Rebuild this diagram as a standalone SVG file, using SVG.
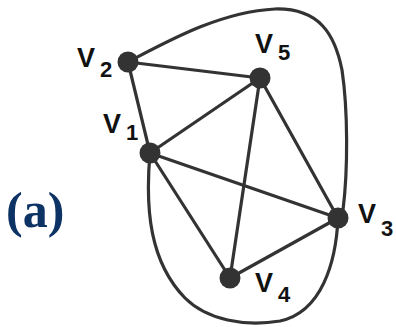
<svg xmlns="http://www.w3.org/2000/svg" width="396" height="327" viewBox="0 0 396 327">
<style>
.e{fill:none;stroke:#333;stroke-width:3.2;stroke-linecap:round}
.n{fill:#333}
.l{font-family:"Liberation Sans",Arial,sans-serif;font-weight:bold;font-size:27px;fill:#111}
.s{font-size:22px}
.t{font-family:"Liberation Serif","Times New Roman",serif;font-weight:bold;font-size:50px;fill:#0d3264}
</style>
<rect width="396" height="327" fill="#fff"/>
<g id="connectors">
<line class="e" x1="128" y1="62" x2="260" y2="78"/>
<line class="e" x1="128" y1="62" x2="150" y2="153"/>
<line class="e" x1="150" y1="153" x2="260" y2="78"/>
<line class="e" x1="150" y1="153" x2="338" y2="218"/>
<line class="e" x1="150" y1="153" x2="230" y2="278"/>
<line class="e" x1="260" y1="78" x2="230" y2="278"/>
<line class="e" x1="260" y1="78" x2="338" y2="218"/>
<line class="e" x1="230" y1="278" x2="338" y2="218"/>
<path class="e" d="M128,62 C170,40 220,12 275,9 C320,8 335,35 342,70 C348,110 348,170 343,210"/>
<path class="e" d="M150,153 C145,210 150,262 185,298 C207,320 245,327 280,321 C322,312 336,262 338,218"/>
</g>
<g id="v2"><circle class="n" cx="128" cy="62" r="10.5"/><text class="l" x="77" y="67">V<tspan class="s" x="100" y="77">2</tspan></text></g>
<g id="v5"><circle class="n" cx="260" cy="78" r="10.5"/><text class="l" x="255" y="53">V<tspan class="s" x="278" y="60">5</tspan></text></g>
<g id="v1"><circle class="n" cx="150" cy="153" r="10.5"/><text class="l" x="103" y="133">V<tspan class="s" x="126" y="140">1</tspan></text></g>
<g id="v3"><circle class="n" cx="338" cy="218" r="10.5"/><text class="l" x="358" y="223">V<tspan class="s" x="381" y="236">3</tspan></text></g>
<g id="v4"><circle class="n" cx="230" cy="278" r="10.5"/><text class="l" x="255" y="292">V<tspan class="s" x="278" y="302">4</tspan></text></g>
<g id="label"><text class="t" x="6" y="227">(a)</text></g>
</svg>
